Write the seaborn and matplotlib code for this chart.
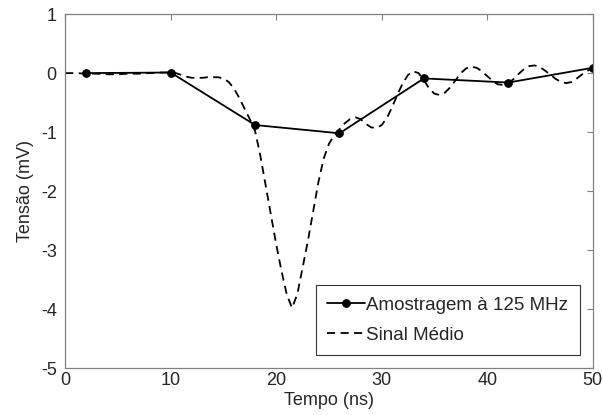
import numpy as np
import pandas as pd
import seaborn as sns
import matplotlib.pyplot as plt

# Amostragem a 125 MHz (um ponto a cada 8 ns)
amostra_t = [2, 10, 18, 26, 34, 42, 50]
amostra_v = [0.0, 0.01, -0.88, -1.02, -0.09, -0.16, 0.09]

# Sinal medio
sinal_t = [0, 1, 2, 3, 4, 5, 6, 7, 8, 9, 10,
           10.5, 11, 11.5, 12, 12.5, 13, 13.5, 14, 14.5, 15,
           15.5, 16, 16.5, 17, 17.5, 18,
           18.5, 19, 19.5, 20, 20.5, 21, 21.5,
           22, 22.5, 23, 23.5, 24, 24.5, 25, 25.5, 26,
           26.5, 27, 27.5, 28, 28.5, 29, 29.5, 30, 30.5,
           31, 31.5, 32, 32.5, 33, 33.5, 34, 34.5, 35, 35.5,
           36, 36.5, 37, 37.5, 38, 38.5, 39, 39.5, 40, 40.5,
           41, 41.5, 42, 42.5, 43, 43.5, 44, 44.5, 45, 45.5,
           46, 46.5, 47, 47.5, 48, 48.5, 49, 49.5, 50]
sinal_v = [0.0, 0.0, -0.01, -0.01, -0.02, -0.02, -0.01, -0.01, 0.0, 0.01, 0.01,
           0.0, -0.03, -0.06, -0.08, -0.08, -0.08, -0.07, -0.07, -0.07, -0.09,
           -0.15, -0.26, -0.42, -0.6, -0.78, -0.98,
           -1.4, -1.9, -2.4, -2.9, -3.35, -3.75, -3.98,
           -3.75, -3.3, -2.85, -2.35, -1.85, -1.45, -1.2, -1.05, -0.95,
           -0.85, -0.78, -0.75, -0.78, -0.86, -0.92, -0.93, -0.88, -0.76,
           -0.57, -0.36, -0.17, -0.03, 0.03, 0.0, -0.12, -0.26, -0.35, -0.37,
           -0.33, -0.24, -0.12, 0.0, 0.08, 0.11, 0.09, 0.03, -0.05, -0.13,
           -0.19, -0.2, -0.17, -0.1, -0.01, 0.07, 0.12, 0.13, 0.1, 0.04,
           -0.03, -0.1, -0.15, -0.17, -0.15, -0.09, -0.02, 0.04, 0.08]

x_ticks = [0, 10, 20, 30, 40, 50]
y_ticks = [1, 0, -1, -2, -3, -4, -5]

sns.set_style("white")
plt.rcParams['font.family'] = ['Liberation Sans', 'DejaVu Sans']
plt.rcParams['axes.unicode_minus'] = False
plt.rcParams['xtick.direction'] = 'in'
plt.rcParams['ytick.direction'] = 'in'

fig = plt.figure(figsize=(6.03, 4.15), dpi=100)
ax = fig.add_axes([0.108, 0.113, 0.875, 0.853])

df_sinal = pd.DataFrame({'t': sinal_t, 'v': sinal_v})
df_amostra = pd.DataFrame({'t': amostra_t, 'v': amostra_v})

sns.lineplot(data=df_sinal, x='t', y='v', ax=ax, color='black',
             linestyle=(0, (4.5, 3)), linewidth=1.3, label='Sinal Médio')
sns.lineplot(data=df_amostra, x='t', y='v', ax=ax, color='black',
             marker='o', markersize=5.5, markeredgecolor='black',
             linewidth=1.3, label='Amostragem à 125 MHz')

ax.set_xlim(0, 50)
ax.set_ylim(-5, 1)
ax.set_xticks(x_ticks)
ax.set_yticks(y_ticks)
ax.tick_params(axis='both', which='both', top=True, right=True,
               length=4, color='#808080', labelsize=13)
ax.tick_params(axis='x', pad=3)
ax.tick_params(axis='y', pad=6)
for s in ax.spines.values():
    s.set_color('#808080')
    s.set_linewidth(0.9)

ax.set_xlabel('Tempo (ns)', fontsize=13, labelpad=2)
ax.set_ylabel('Tensão (mV)', fontsize=13, labelpad=5)

h, l = ax.get_legend_handles_labels()
leg = ax.legend(h[::-1], l[::-1], loc='lower right', bbox_to_anchor=(0.975, 0.037),
                borderaxespad=0, fontsize=13.5, handlelength=2.0, handletextpad=0.1,
                frameon=True, fancybox=False, borderpad=0.6, labelspacing=0.7)
leg.get_frame().set_edgecolor('black')
leg.get_frame().set_linewidth(0.8)

fig.savefig('out.png', dpi=100)
